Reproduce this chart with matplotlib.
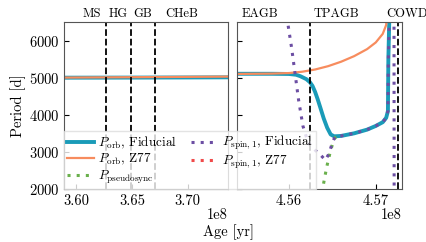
import numpy as np
import matplotlib
matplotlib.use("Agg")
import matplotlib.pyplot as plt

plt.rcParams["font.family"] = ["cmr10", "DejaVu Serif"]
plt.rcParams["mathtext.fontset"] = "cm"
plt.rcParams["axes.formatter.use_mathtext"] = True

# ---- data (ages in yr, periods in days) ----
# early evolution panel
age_early = [3.585e8, 3.62e8, 3.66e8, 3.70e8, 3.74e8]
porb_fid_early = [5000, 5001, 5003, 5006, 5010]
porb_z77_early = [5002, 5008, 5015, 5022, 5030]

# late evolution panel
age_late_fid = [4.5535e8, 4.5580e8, 4.5600e8, 4.5608e8, 4.5613e8, 4.5620e8, 4.5624e8,
                4.5627e8, 4.5630e8, 4.5633e8, 4.5636e8, 4.5640e8, 4.5644e8, 4.5648e8,
                4.5652e8, 4.5660e8, 4.5675e8, 4.5690e8, 4.5700e8, 4.5708e8, 4.5712e8,
                4.5714e8, 4.57145e8, 4.5716e8]
porb_fid_late = [5105, 5105, 5100, 5080, 5040, 4960, 4880,
                 4780, 4620, 4420, 4200, 3900, 3650, 3470,
                 3420, 3430, 3500, 3600, 3700, 3800, 3920,
                 4100, 5500, 7000]

age_late_z77 = [4.5535e8, 4.5580e8, 4.5600e8, 4.5615e8, 4.5630e8, 4.5645e8, 4.5660e8,
                4.5675e8, 4.5690e8, 4.5700e8, 4.5708e8, 4.5712e8, 4.57125e8, 4.5713e8]
porb_z77_late = [5100, 5110, 5125, 5160, 5220, 5310, 5430,
                 5580, 5770, 5950, 6180, 6420, 6600, 7000]

age_pseudo = [4.5638e8, 4.5641e8, 4.5644e8, 4.5647e8, 4.5650e8, 4.5653e8, 4.5656e8]
p_pseudo = [1900, 2300, 2650, 2950, 3200, 3380, 3430]

age_spin_fid = [4.5599e8, 4.5603e8, 4.5607e8, 4.5611e8, 4.5616e8, 4.5622e8, 4.5630e8,
                4.5637e8, 4.5642e8, 4.5646e8, 4.5650e8, 4.5653e8, 4.5660e8, 4.5675e8,
                4.5690e8, 4.5700e8, 4.5708e8, 4.5712e8, 4.5714e8, 4.57145e8, 4.5716e8,
                4.5721e8, 4.57212e8]
p_spin_fid = [6400, 5800, 5100, 4400, 3700, 3250, 3050,
              2900, 2780, 2950, 3250, 3410, 3430, 3500,
              3600, 3700, 3800, 3920, 4100, 5500, 7000,
              7000, 1000]

# Z77 spin stays off the top of the plotted range
age_spin_z77 = [4.5535e8, 4.5730e8]
p_spin_z77 = [8000, 8000]

stage_bounds_early = [3.6268e8, 3.6491e8, 3.6705e8]
stage_bounds_late = [4.5624e8, 4.5726e8]
stage_names_early = ["MS", "HG", "GB", "CHeB"]
stage_pos_early = [3.6143e8, 3.6375e8, 3.6598e8, 3.6946e8]
stage_names_late = ["EAGB", "TPAGB", "COWD"]
stage_pos_late = [4.5567e8, 4.5655e8, 4.57355e8]

c_fid = "#1a9bb8"
c_z77 = "#f78c5e"
c_pseudo = "#6ab04c"
c_spin_fid = "#6c4ea3"
c_spin_z77 = "#f04a4a"

fig = plt.figure(figsize=(4.27, 2.42), dpi=100)
ax1 = fig.add_axes([0.150, 0.219, 0.384, 0.690])
ax2 = fig.add_axes([0.555, 0.219, 0.386, 0.690])

l1, = ax1.plot(age_early, porb_fid_early, color=c_fid, lw=2.8, label=r"$P_{\rm orb}$, Fiducial")
l2, = ax1.plot(age_early, porb_z77_early, color=c_z77, lw=1.6, label=r"$P_{\rm orb}$, Z77")

ax2.plot(age_late_fid, porb_fid_late, color=c_fid, lw=2.8)
ax2.plot(age_late_z77, porb_z77_late, color=c_z77, lw=1.6)
l3, = ax2.plot(age_pseudo, p_pseudo, color=c_pseudo, lw=2.2, ls=(0, (1, 2)),
               label=r"$P_{\rm pseudosync}$")
l5, = ax2.plot(age_spin_z77, p_spin_z77, color=c_spin_z77, lw=2.2, ls=(0, (1, 2)),
               label=r"$P_{\rm spin,1}$, Z77")
l4, = ax2.plot(age_spin_fid, p_spin_fid, color=c_spin_fid, lw=2.2, ls=(0, (1, 2)),
               label=r"$P_{\rm spin,1}$, Fiducial")

for x in stage_bounds_early:
    ax1.axvline(x, color="k", ls="--", lw=1.3)
for x in stage_bounds_late:
    ax2.axvline(x, color="k", ls="--", lw=1.3)

for name, x in zip(stage_names_early, stage_pos_early):
    ax1.text(x, 1.015, name, transform=ax1.get_xaxis_transform(), ha="center",
             va="bottom", fontsize=9)
for name, x in zip(stage_names_late, stage_pos_late):
    ax2.text(x, 1.015, name, transform=ax2.get_xaxis_transform(), ha="center",
             va="bottom", fontsize=9, clip_on=False)

ax1.set_xlim(3.589e8, 3.736e8)
ax2.set_xlim(4.5540e8, 4.5730e8)
for ax in (ax1, ax2):
    ax.set_ylim(2000, 6500)
    ax.set_yticks([2000, 3000, 4000, 5000, 6000])
    ax.tick_params(direction="in", labelsize=10.5)
    for s in ax.spines.values():
        s.set_color("#555555")
ax1.set_xticks([3.60e8, 3.65e8, 3.70e8])
ax1.set_xticklabels(["3.60", "3.65", "3.70"])
ax2.set_xticks([4.56e8, 4.57e8])
ax2.set_xticklabels(["4.56", "4.57"])
ax2.set_yticklabels([])
for ax in (ax1, ax2):
    ax.text(1.0, -0.115, "1e8", transform=ax.transAxes, ha="right", va="top", fontsize=10.5)

ax1.set_ylabel("Period [d]", fontsize=10.5, labelpad=2)
fig.text(0.535, 0.01, "Age [yr]", ha="center", va="bottom", fontsize=10.5)

fig.legend(handles=[l1, l2, l3, l4, l5], ncol=2, loc="lower left",
           bbox_to_anchor=(0.150, 0.219), fontsize=9.5, framealpha=0.8,
           edgecolor="#dddddd", fancybox=False, borderaxespad=0,
           handlelength=2.0, handletextpad=0.35, columnspacing=1.0,
           labelspacing=0.1, borderpad=0.25)

fig.savefig("out.png", dpi=100)
